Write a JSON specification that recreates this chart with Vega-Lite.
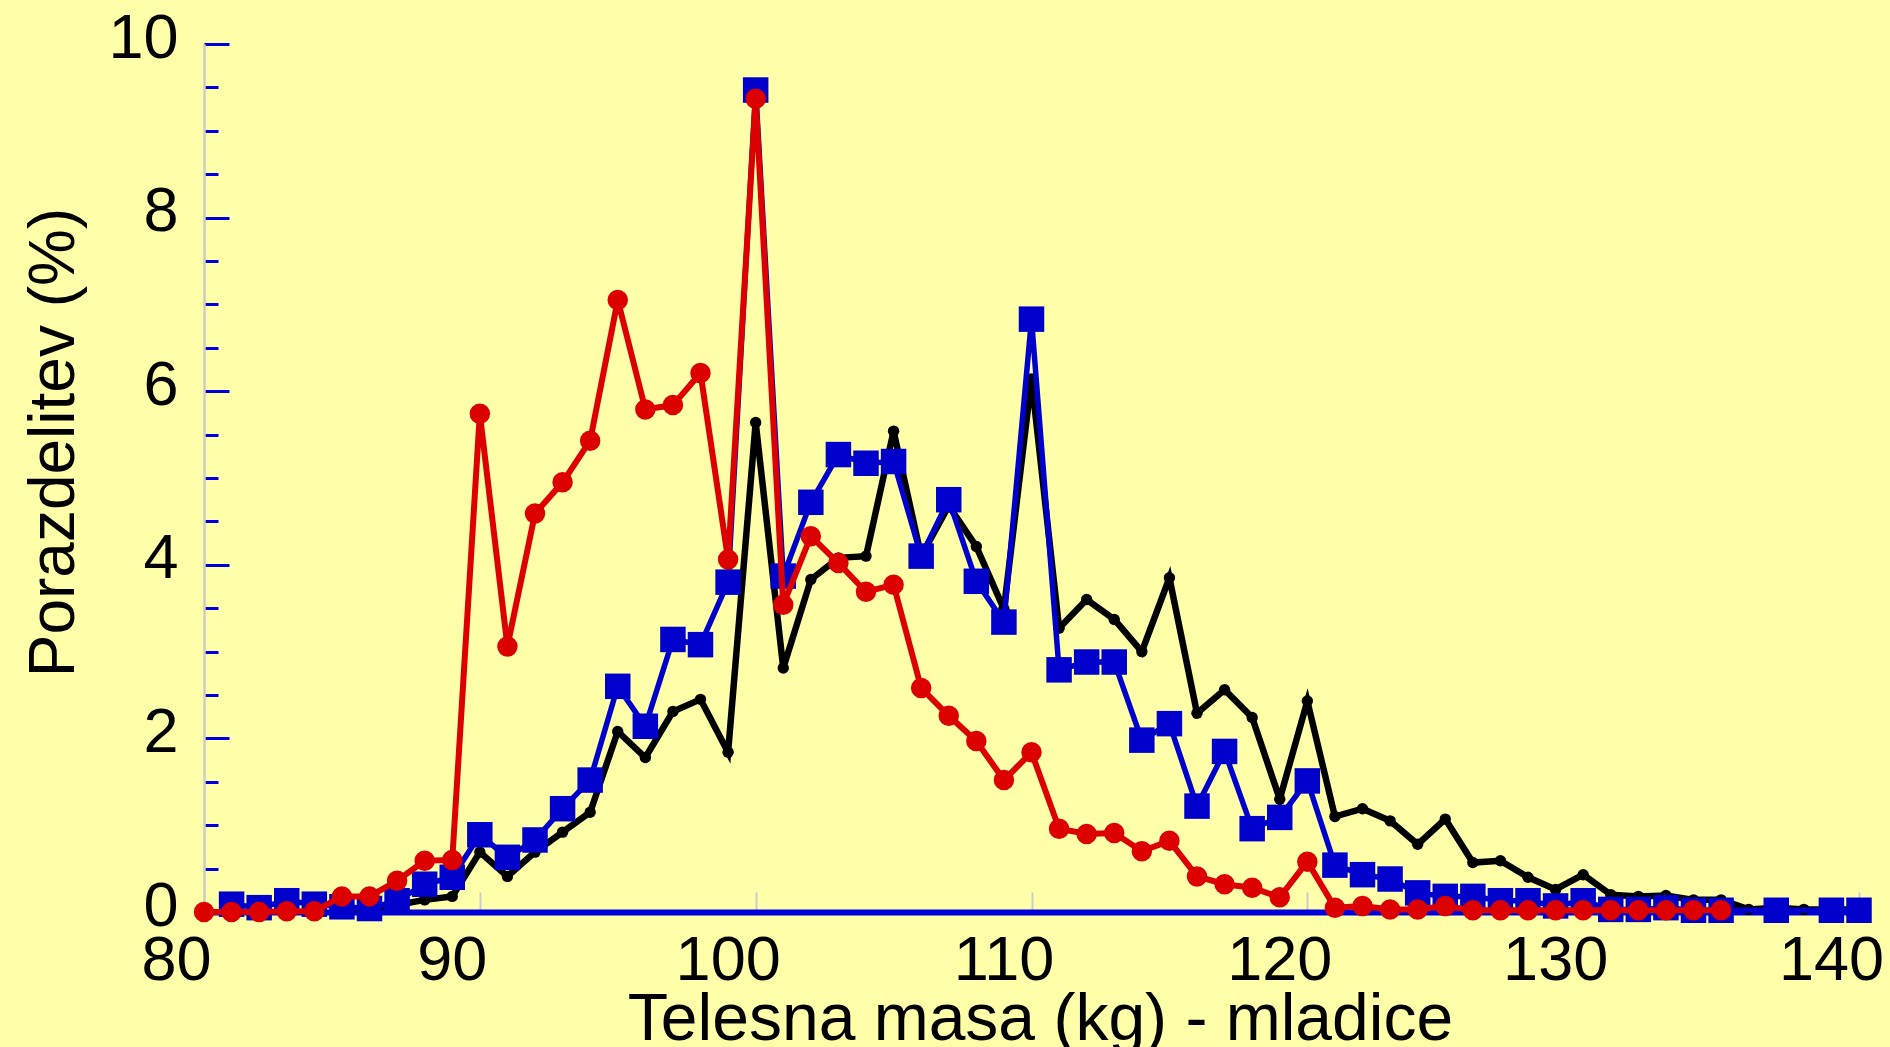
{
  "$schema": "https://vega.github.io/schema/vega-lite/v6.json",
  "width": 1655,
  "height": 868,
  "autosize": "none",
  "padding": {"left": 204, "top": 44, "right": 31, "bottom": 135},
  "background": "#FFFFAA",
  "config": {"view": {"stroke": null}, "font": "Liberation Sans"},
  "datasets": {
    "red": [
      {"x":80,"v":0},{"x":81,"v":0},{"x":82,"v":0},{"x":83,"v":0.01},{"x":84,"v":0.01},{"x":85,"v":0.18},{"x":86,"v":0.18},{"x":87,"v":0.36},{"x":88,"v":0.59},{"x":89,"v":0.6},
      {"x":90,"v":5.74},{"x":91,"v":3.06},{"x":92,"v":4.59},{"x":93,"v":4.95},{"x":94,"v":5.43},{"x":95,"v":7.05},{"x":96,"v":5.79},{"x":97,"v":5.84},{"x":98,"v":6.21},{"x":99,"v":4.06},
      {"x":100,"v":9.37},{"x":101,"v":3.54},{"x":102,"v":4.33},{"x":103,"v":4.02},{"x":104,"v":3.69},{"x":105,"v":3.77},{"x":106,"v":2.58},{"x":107,"v":2.26},{"x":108,"v":1.97},{"x":109,"v":1.52},
      {"x":110,"v":1.84},{"x":111,"v":0.96},{"x":112,"v":0.9},{"x":113,"v":0.91},{"x":114,"v":0.7},{"x":115,"v":0.82},{"x":116,"v":0.41},{"x":117,"v":0.32},{"x":118,"v":0.28},{"x":119,"v":0.17},
      {"x":120,"v":0.58},{"x":121,"v":0.05},{"x":122,"v":0.07},{"x":123,"v":0.03},{"x":124,"v":0.03},{"x":125,"v":0.07},{"x":126,"v":0.02},{"x":127,"v":0.02},{"x":128,"v":0.02},{"x":129,"v":0.02},
      {"x":130,"v":0.02},{"x":131,"v":0.02},{"x":132,"v":0.02},{"x":133,"v":0.02},{"x":134,"v":0.02},{"x":135,"v":0.02}
    ],
    "blue": [
      {"x":81,"v":0.09},{"x":82,"v":0.05},{"x":83,"v":0.13},{"x":84,"v":0.09},{"x":85,"v":0.06},{"x":86,"v":0.04},{"x":87,"v":0.13},{"x":88,"v":0.32},{"x":89,"v":0.4},
      {"x":90,"v":0.89},{"x":91,"v":0.63},{"x":92,"v":0.83},{"x":93,"v":1.19},{"x":94,"v":1.52},{"x":95,"v":2.6},{"x":96,"v":2.14},{"x":97,"v":3.14},{"x":98,"v":3.08},{"x":99,"v":3.8},
      {"x":100,"v":9.47},{"x":101,"v":3.87},{"x":102,"v":4.72},{"x":103,"v":5.27},{"x":104,"v":5.17},{"x":105,"v":5.19},{"x":106,"v":4.1},{"x":107,"v":4.75},{"x":108,"v":3.81},{"x":109,"v":3.34},
      {"x":110,"v":6.83},{"x":111,"v":2.79},{"x":112,"v":2.88},{"x":113,"v":2.88},{"x":114,"v":1.98},{"x":115,"v":2.17},{"x":116,"v":1.22},{"x":117,"v":1.85},{"x":118,"v":0.96},{"x":119,"v":1.09},
      {"x":120,"v":1.51},{"x":121,"v":0.54},{"x":122,"v":0.43},{"x":123,"v":0.38},{"x":124,"v":0.22},{"x":125,"v":0.18},{"x":126,"v":0.18},{"x":127,"v":0.13},{"x":128,"v":0.13},{"x":129,"v":0.07},
      {"x":130,"v":0.13},{"x":131,"v":0.03},{"x":132,"v":0.03},{"x":133,"v":0.05},{"x":134,"v":0.02},{"x":135,"v":0.02},{"x":137,"v":0.02},{"x":139,"v":0.02},{"x":140,"v":0.02}
    ],
    "black": [
      {"x":85,"v":0.02},{"x":86,"v":0.04},{"x":87,"v":0.08},{"x":88,"v":0.14},{"x":89,"v":0.18},
      {"x":90,"v":0.69},{"x":91,"v":0.41},{"x":92,"v":0.69},{"x":93,"v":0.92},{"x":94,"v":1.15},{"x":95,"v":2.08},{"x":96,"v":1.78},{"x":97,"v":2.31},{"x":98,"v":2.45},{"x":99,"v":1.84},
      {"x":100,"v":5.64},{"x":101,"v":2.81},{"x":102,"v":3.83},{"x":103,"v":4.08},{"x":104,"v":4.1},{"x":105,"v":5.54},{"x":106,"v":4.1},{"x":107,"v":4.68},{"x":108,"v":4.21},{"x":109,"v":3.49},
      {"x":110,"v":6.14},{"x":111,"v":3.27},{"x":112,"v":3.6},{"x":113,"v":3.37},{"x":114,"v":3.0},{"x":115,"v":3.85},{"x":116,"v":2.29},{"x":117,"v":2.56},{"x":118,"v":2.24},{"x":119,"v":1.3},
      {"x":120,"v":2.43},{"x":121,"v":1.1},{"x":122,"v":1.19},{"x":123,"v":1.05},{"x":124,"v":0.78},{"x":125,"v":1.07},{"x":126,"v":0.57},{"x":127,"v":0.59},{"x":128,"v":0.4},{"x":129,"v":0.26},
      {"x":130,"v":0.43},{"x":131,"v":0.2},{"x":132,"v":0.18},{"x":133,"v":0.19},{"x":134,"v":0.14},{"x":135,"v":0.14},{"x":136,"v":0.03},{"x":137,"v":0.05},{"x":138,"v":0.03},{"x":139,"v":0.03},{"x":140,"v":0.03}
    ]
  },
  "encoding": {
    "x": {
      "field": "x", "type": "quantitative",
      "scale": {"domain": [80, 140], "nice": false, "zero": false},
      "axis": {
        "values": [80, 90, 100, 110, 120, 130, 140],
        "grid": false,
        "format": "d",
        "title": "Telesna masa (kg) - mladice",
        "titleFont": "Liberation Sans", "titleFontSize": 66, "titleFontWeight": "normal", "titleColor": "#000000",
        "titleX": 836, "titleY": 127, "titleBaseline": "alphabetic",
        "labelFont": "Liberation Sans", "labelFontSize": 63, "labelColor": "#000000",
        "labelOffset": -28, "labelPadding": 37, "labelFlush": false, "labelOverlap": false,
        "tickColor": "#CCCCCC", "tickWidth": 2, "tickSize": -20,
        "domainColor": "#0000DD", "domainWidth": 6
      }
    },
    "y": {
      "field": "v", "type": "quantitative",
      "scale": {"domain": [0, 10], "nice": false},
      "axis": {
        "values": [0, 0.5, 1, 1.5, 2, 2.5, 3, 3.5, 4, 4.5, 5, 5.5, 6, 6.5, 7, 7.5, 8, 8.5, 9, 9.5, 10],
        "grid": false,
        "labelExpr": "datum.value % 2 === 0 ? format(datum.value, 'd') : ''",
        "title": "Porazdelitev (%)",
        "titleFont": "Liberation Sans", "titleFontSize": 64, "titleFontWeight": "normal", "titleColor": "#000000",
        "titleX": -131, "titleY": 398, "titleBaseline": "alphabetic", "titleAngle": 270,
        "labelFont": "Liberation Sans", "labelFontSize": 63, "labelColor": "#000000",
        "labelPadding": 51, "labelOffset": -6, "labelFlush": false, "labelOverlap": false,
        "tickColor": "#0000DD", "tickWidth": 3,
        "tickSize": {"condition": {"test": "datum.value % 2 === 0", "value": -25}, "value": -14},
        "domainColor": "#CCCCC4", "domainWidth": 2.5
      }
    }
  },
  "layer": [
    {"data": {"name": "black"}, "mark": {"type": "line", "color": "#000000", "strokeWidth": 6.5}},
    {"data": {"name": "black"}, "mark": {"type": "point", "shape": "circle", "filled": true, "opacity": 1, "color": "#000000", "size": 130}},
    {"data": {"name": "blue"}, "mark": {"type": "line", "color": "#0000CC", "strokeWidth": 5.5}},
    {"data": {"name": "blue"}, "mark": {"type": "point", "shape": "square", "filled": true, "opacity": 1, "color": "#0000CC", "size": 650}},
    {"data": {"name": "red"}, "mark": {"type": "line", "color": "#DD0000", "strokeWidth": 6}},
    {"data": {"name": "red"}, "mark": {"type": "point", "shape": "circle", "filled": true, "opacity": 1, "color": "#DD0000", "size": 420}}
  ]
}
